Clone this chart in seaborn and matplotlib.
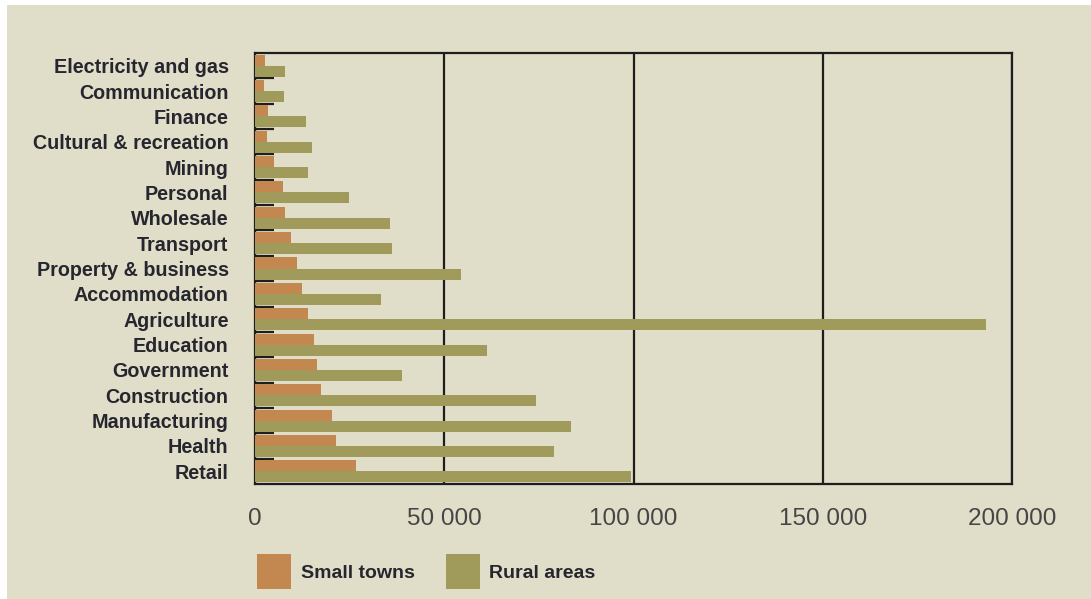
import numpy as np
import pandas as pd
import matplotlib
matplotlib.use("Agg")
import matplotlib.pyplot as plt
from matplotlib.patches import Rectangle
from matplotlib.ticker import FuncFormatter
import seaborn as sns

# Employment by industry, small towns vs rural areas
sectors = [
    "Electricity and gas", "Communication", "Finance", "Cultural & recreation",
    "Mining", "Personal", "Wholesale", "Transport", "Property & business",
    "Accommodation", "Agriculture", "Education", "Government", "Construction",
    "Manufacturing", "Health", "Retail",
]
small_towns = [2600, 2500, 3400, 3300, 5000, 7300, 7900, 9500, 11000,
               12400, 14000, 15600, 16300, 17400, 20300, 21400, 26600]
rural_areas = [7900, 7700, 13400, 15100, 14100, 24800, 35600, 36300, 54400,
               33400, 193000, 61200, 38900, 74300, 83400, 78900, 99300]
series_names = ["Small towns", "Rural areas"]
x_ticks = [0, 50000, 100000, 150000, 200000]

BG = "#e0ddc8"
ORANGE = "#c3884f"
OLIVE = "#a19b5b"

df = pd.DataFrame({
    "sector": sectors * 2,
    "group": [series_names[0]] * len(sectors) + [series_names[1]] * len(sectors),
    "value": small_towns + rural_areas,
})

sns.set_style("white")
plt.rcParams["font.family"] = ["Liberation Sans", "DejaVu Sans"]

fig = plt.figure(figsize=(10.91, 5.99), dpi=100, facecolor="white")
fig.patches.append(Rectangle((7 / 1091, 0), 1, 1 - 5 / 599, transform=fig.transFigure,
                             facecolor=BG, edgecolor="none", zorder=-10))

ax = fig.add_axes([255 / 1091, 1 - 484 / 599, 757 / 1091, 431 / 599])
ax.set_facecolor(BG)

sns.barplot(data=df, y="sector", x="value", hue="group", orient="h",
            order=sectors, hue_order=series_names, palette=[ORANGE, OLIVE],
            width=0.87, gap=0, saturation=1, linewidth=0, ax=ax, legend=True)

ax.set_xlim(0, 200000)
ax.set_ylim(len(sectors) - 0.5, -0.5)
ax.set_xticks(x_ticks)
ax.xaxis.set_major_formatter(FuncFormatter(lambda v, p: f"{int(v):,}".replace(",", " ")))
ax.set_xlabel("")
ax.set_ylabel("")

ax.set_axisbelow(True)
ax.grid(axis="x", color="#1e1e1e", linewidth=1.6)
ax.grid(axis="y", visible=False)

for side in ["top", "right", "bottom", "left"]:
    ax.spines[side].set_visible(True)
    ax.spines[side].set_color("#1e1e1e")
    ax.spines[side].set_linewidth(1.6)
ax.spines["left"].set_zorder(0.5)

ax.tick_params(axis="x", which="major", length=0, pad=17, labelsize=17.5, labelcolor="#454545")
ax.tick_params(axis="y", which="major", length=0, pad=19, labelsize=14.2, labelcolor="#26262e")
for lbl in ax.get_yticklabels():
    lbl.set_fontweight("bold")

ax.set_yticks(np.arange(0.5, len(sectors) - 0.5, 1), minor=True)
ax.tick_params(axis="y", which="minor", direction="in", length=14, width=1.6,
               color="#1e1e1e", left=True)

ax.get_legend().remove()
handles = [Rectangle((0, 0), 1, 1, facecolor=c, edgecolor="none") for c in (ORANGE, OLIVE)]
leg = fig.legend(handles, series_names, loc="upper left",
                 bbox_to_anchor=(257 / 1091, 1 - 554 / 599), ncol=2, frameon=False,
                 borderpad=0, borderaxespad=0, handlelength=1.75, handleheight=2.4,
                 handletextpad=0.5, columnspacing=1.6,
                 prop={"size": 14, "weight": "bold"})
for t in leg.get_texts():
    t.set_color("#26262e")

fig.savefig("out.png", dpi=100, facecolor=fig.get_facecolor())
